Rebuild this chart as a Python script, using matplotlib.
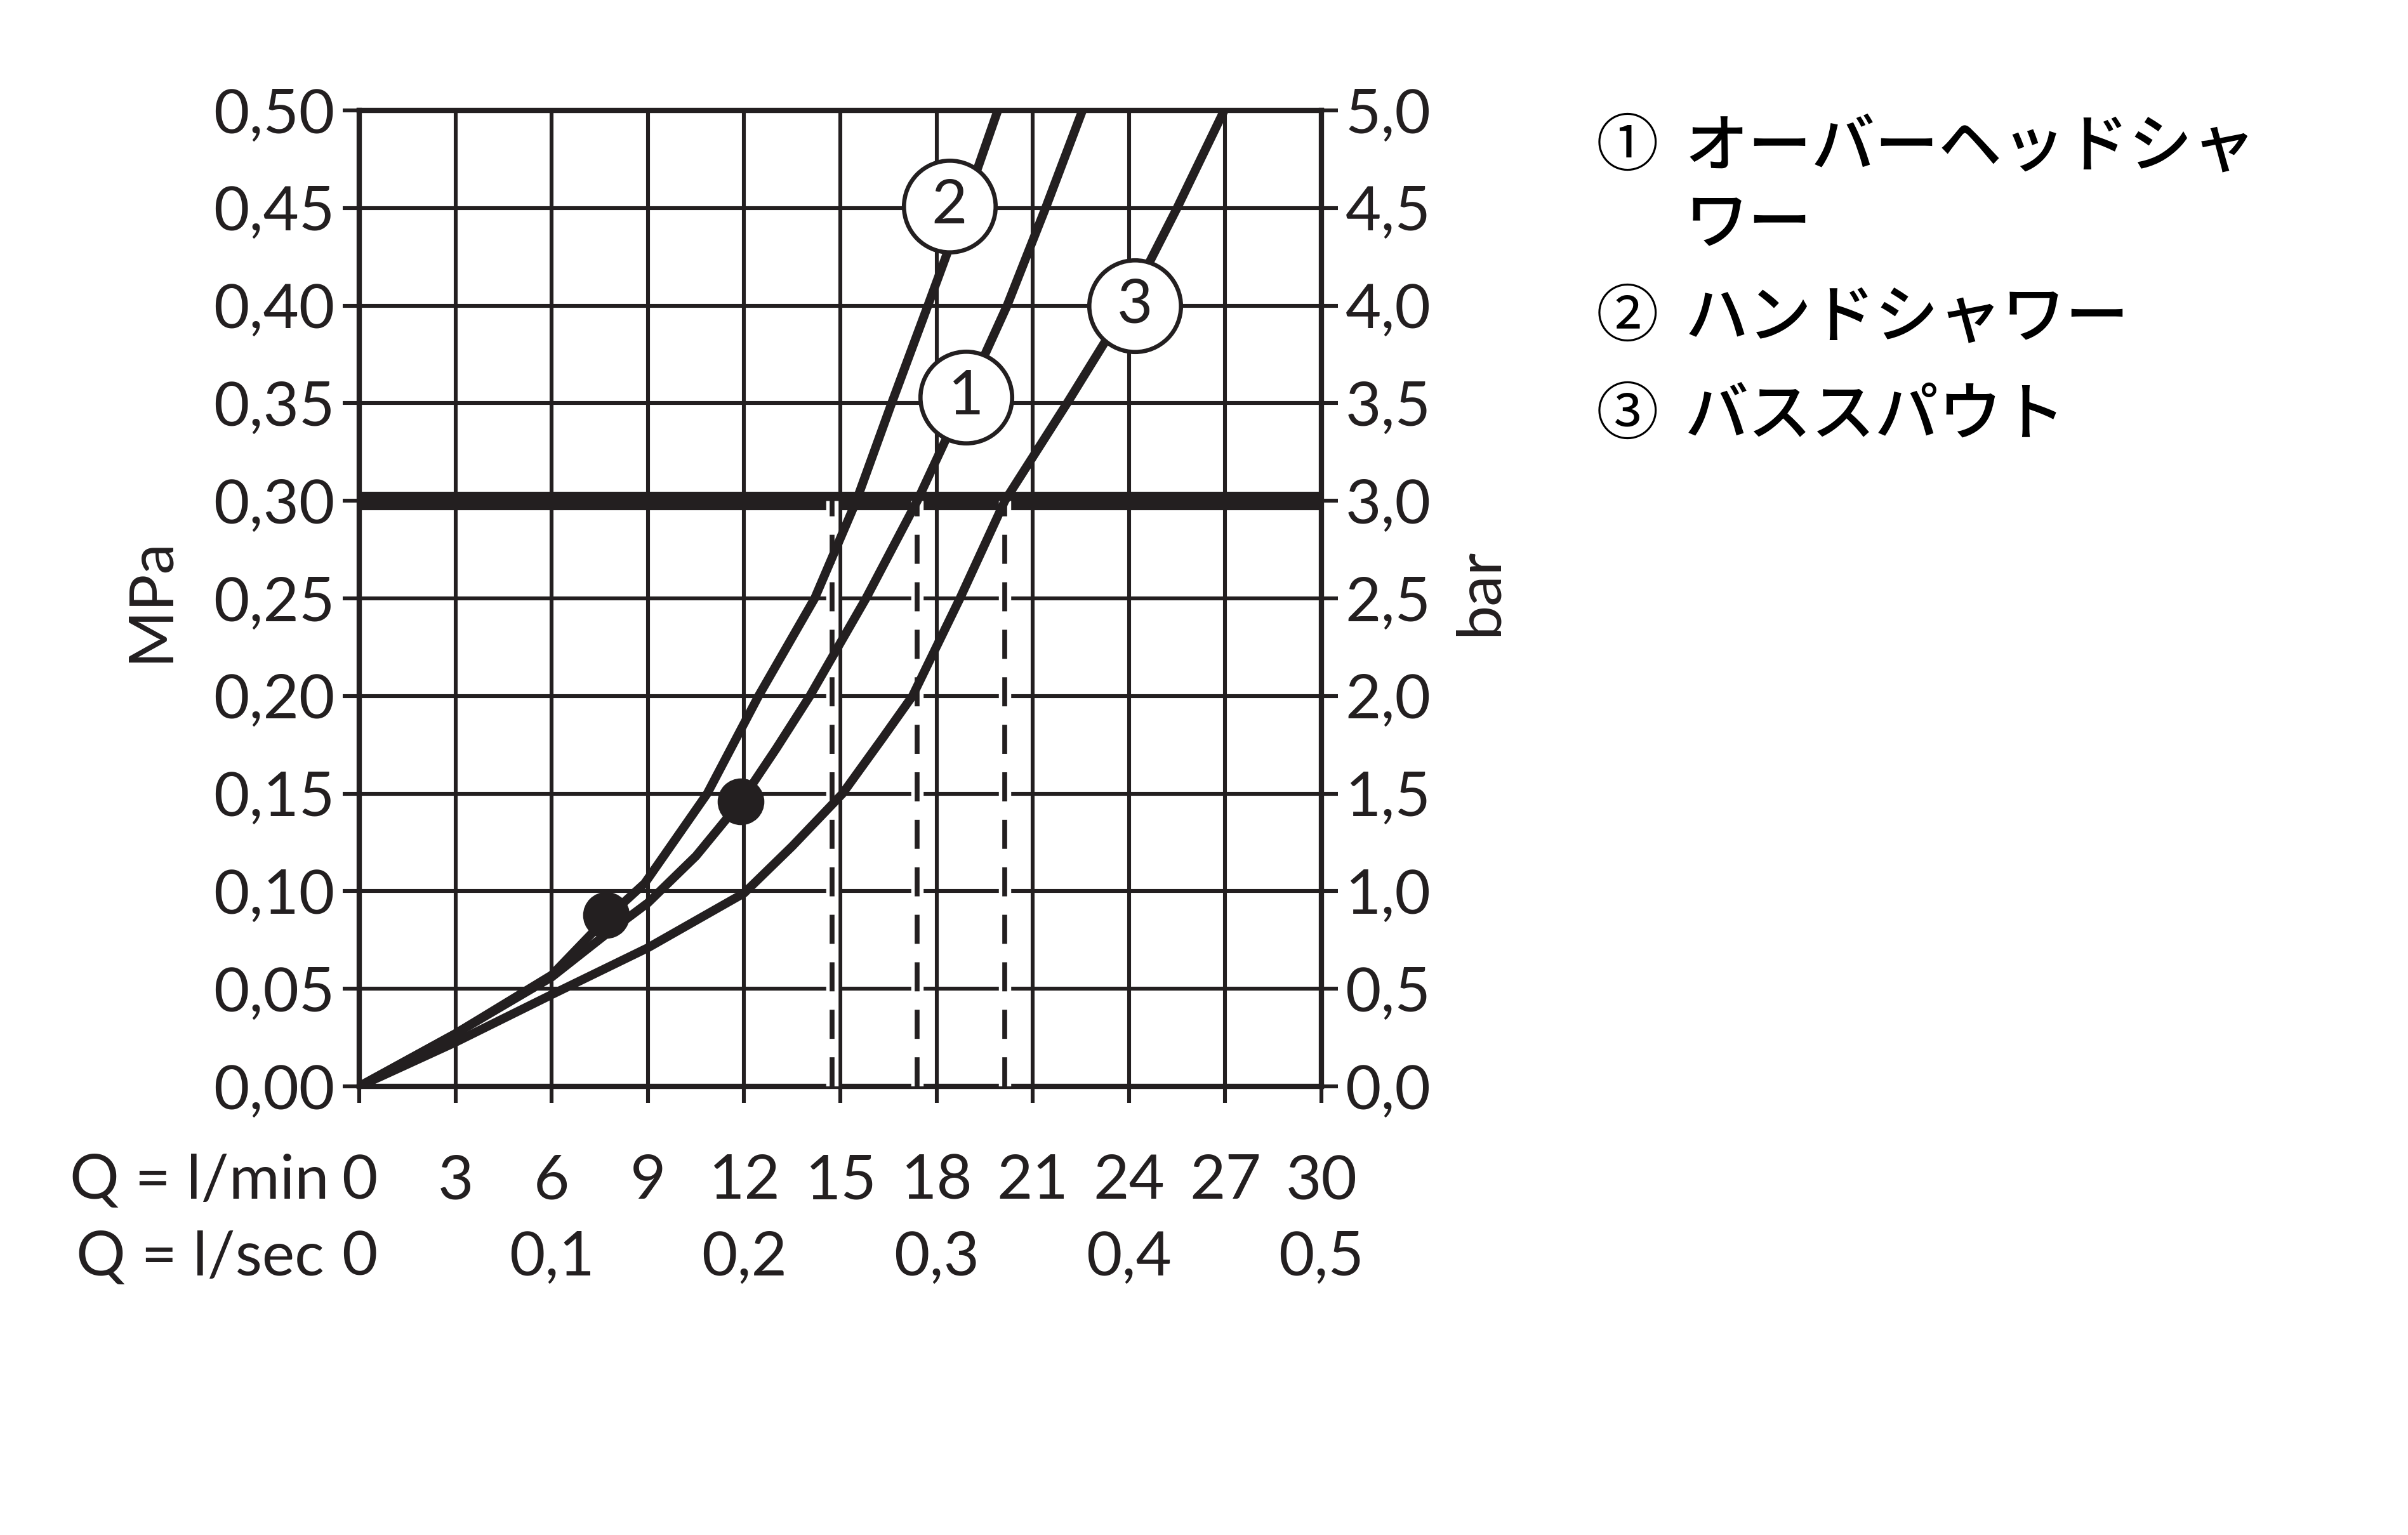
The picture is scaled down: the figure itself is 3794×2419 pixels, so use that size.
import matplotlib
matplotlib.use('Agg')
import matplotlib.pyplot as plt
from matplotlib.transforms import blended_transform_factory, offset_copy

plt.rcParams['font.family'] = ['Lato', 'DejaVu Sans']
INK = '#231f20'

# axis ticks / labels
q_min_ticks = [0, 3, 6, 9, 12, 15, 18, 21, 24, 27, 30]
q_sec_pos = [0, 6, 12, 18, 24, 30]
q_sec_labels = ['0', '0,1', '0,2', '0,3', '0,4', '0,5']
mpa_ticks = [0.00, 0.05, 0.10, 0.15, 0.20, 0.25, 0.30, 0.35, 0.40, 0.45, 0.50]
mpa_labels = ['0,00', '0,05', '0,10', '0,15', '0,20', '0,25', '0,30', '0,35', '0,40', '0,45', '0,50']
bar_ticks = [0.0, 0.5, 1.0, 1.5, 2.0, 2.5, 3.0, 3.5, 4.0, 4.5, 5.0]
bar_labels = ['0,0', '0,5', '1,0', '1,5', '2,0', '2,5', '3,0', '3,5', '4,0', '4,5', '5,0']

# curve 1: overhead shower
q_overhead = [0, 3, 6, 7.7, 9, 10.5, 11.9, 13, 14.05, 15.8, 17.4, 18.9, 20.2, 21.4, 22.55]
p_overhead = [0, 0.027, 0.056, 0.078, 0.094, 0.118, 0.146, 0.173, 0.20, 0.25, 0.30, 0.353, 0.40, 0.45, 0.50]
# curve 2: hand shower
q_hand = [0, 3, 6, 7.7, 8.9, 10.85, 12.45, 14.2, 15.5, 16.6, 17.73, 18.85, 19.91]
p_hand = [0, 0.027, 0.057, 0.086, 0.104, 0.15, 0.20, 0.25, 0.30, 0.35, 0.40, 0.45, 0.50]
# curve 3: bath spout
q_spout = [0, 3, 6, 9, 12, 13.5, 15.07, 16.3, 17.25, 18.73, 20.13, 22.07, 23.95, 25.5, 26.97]
p_spout = [0, 0.0226, 0.047, 0.071, 0.099, 0.123, 0.15, 0.178, 0.20, 0.25, 0.30, 0.35, 0.40, 0.45, 0.50]

dot_q = [7.69, 11.89]
dot_p = [0.0877, 0.146]

label_txt = ['1', '2', '3']
label_q = [18.91, 18.40, 24.19]
label_p = [0.353, 0.451, 0.400]

limit_p = 0.30
dash_q = [14.75, 17.4, 20.13]

legend_marks = ['①', '②', '③']
legend_names = [['オーバーヘッドシャ', 'ワー'], ['ハンドシャワー'], ['バススパウト']]

W, H = 3794, 2419
fig = plt.figure(figsize=(W / 100, H / 100), dpi=100)
ax = fig.add_axes([566 / W, 1 - 1712 / H, (2082 - 566) / W, (1712 - 174) / H])
ax.set_xlim(0, 30)
ax.set_ylim(0, 0.5)

# grid
ax.set_xticks(q_min_ticks)
ax.set_yticks(mpa_ticks, labels=mpa_labels)
ax.grid(True, color=INK, linewidth=4.4, zorder=1)
ax.set_axisbelow(True)
ax.tick_params(axis='both', direction='out', length=19, width=4.4, color=INK)
ax.tick_params(axis='y', labelsize=70, pad=9, labelcolor=INK)
ax.tick_params(axis='x', labelbottom=False)
for s in ax.spines.values():
    s.set_linewidth(6)
    s.set_color(INK)

ax2 = ax.twinx()
ax2.set_ylim(0, 5)
ax2.set_yticks(bar_ticks, labels=bar_labels)
ax2.tick_params(axis='y', direction='out', length=19, width=4.4, color=INK,
                labelsize=70, pad=8, labelcolor=INK)
for s in ax2.spines.values():
    s.set_visible(False)

# 0.3 MPa line and dashed read-offs
ax.axhline(limit_p, color=INK, linewidth=21, zorder=3)
for q in dash_q:
    ax.plot([q, q], [0, limit_p], color='white', linewidth=14, solid_capstyle='butt', zorder=4)
    ax.plot([q, q], [0, limit_p], color=INK, linewidth=5.5, dashes=(6, 3.8), zorder=5)

# curves
for qs, ps in [(q_overhead, p_overhead), (q_hand, p_hand), (q_spout, p_spout)]:
    ax.plot(qs, ps, color=INK, linewidth=10, solid_joinstyle='round', solid_capstyle='butt', zorder=6)

ax.plot(dot_q, dot_p, 'o', color=INK, markersize=52, zorder=7)

for t, q, p in zip(label_txt, label_q, label_p):
    ax.plot([q], [p], 'o', markersize=104, markerfacecolor='white', markeredgecolor=INK,
            markeredgewidth=4.8, zorder=8)
    ax.text(q, p, t, ha='center', va='center', fontsize=70, color=INK, zorder=9)

# x labels (two rows)
tr = blended_transform_factory(ax.transData, fig.transFigure)
row1_y = 1 - 1862 / H
row2_y = 1 - 1983 / H
for q in q_min_ticks:
    ax.text(q, row1_y, str(q), transform=tr, ha='center', va='center', fontsize=70, color=INK)
for q, t in zip(q_sec_pos, q_sec_labels):
    ax.text(q, row2_y, t, transform=tr, ha='center', va='center', fontsize=70, color=INK)
ax.text(0, row1_y, 'Q = l/min', transform=offset_copy(tr, fig=fig, x=-34, units='points'),
        ha='right', va='center', fontsize=70, color=INK)
ax.text(0, row2_y, 'Q = l/sec', transform=offset_copy(tr, fig=fig, x=-40, units='points'),
        ha='right', va='center', fontsize=70, color=INK)

fig.text(238 / W, 1 - 945 / H, 'MPa', rotation=90, ha='center', va='center', fontsize=70, color=INK)
fig.text(2332 / W, 1 - 933 / H, 'bar', rotation=90, ha='center', va='center', fontsize=70, color=INK)

# legend
jp = ['Noto Sans CJK JP', 'DejaVu Sans']
legend_y = [233, 502, 656]
line_gap = 122
for mark, names, y in zip(legend_marks, legend_names, legend_y):
    fig.text(2564 / W, 1 - y / H, mark, ha='center', va='center', fontsize=71, family=jp,
             fontweight='regular', color='black')
    for i, name in enumerate(names):
        fig.text(2655 / W, 1 - (y + i * line_gap) / H, name, ha='left', va='center',
                 fontsize=72, family=jp, fontweight='medium', color='black')

fig.savefig('out.png', dpi=100, facecolor='white')
